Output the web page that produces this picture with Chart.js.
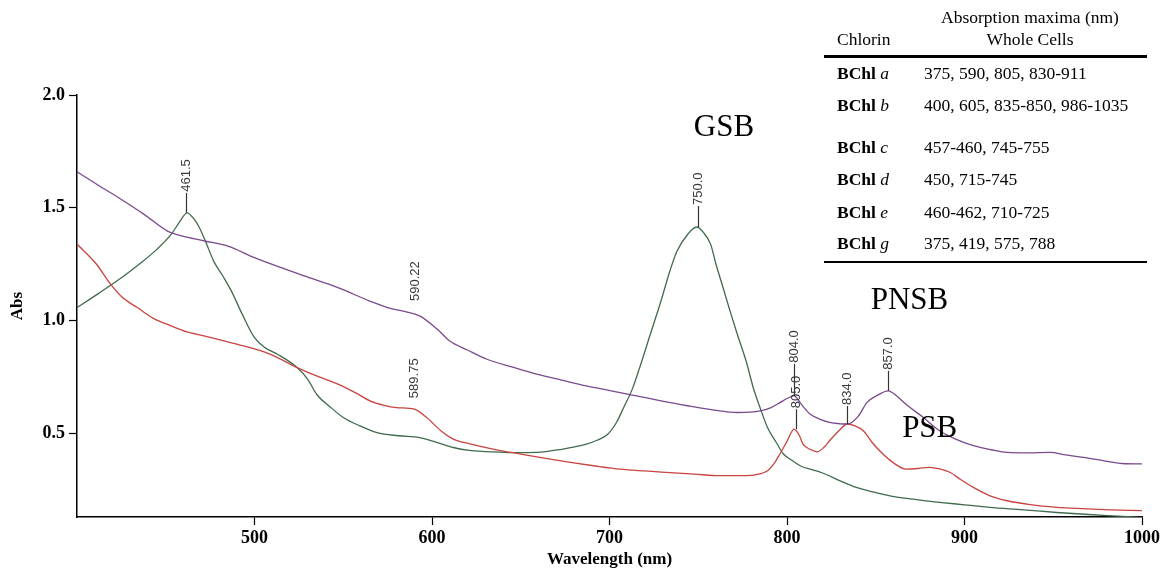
<!DOCTYPE html>
<html>
<head>
<meta charset="utf-8">
<script src="https://cdn.jsdelivr.net/npm/chart.js@4"></script>
<style>
  body { margin: 0; background: #fff; }
  canvas { display: block; }
</style>
</head>
<body>
<canvas id="spectra" width="1167" height="571"></canvas>
<script>
// wavelengths (nm) and absorbance for each group of bacteria
let pnsbNm = [400, 412, 425, 438, 451, 462, 472, 485, 500, 515, 528, 547, 565, 575, 586, 593, 603, 610, 620, 631,
    645, 659, 673, 687, 701, 715, 729, 744, 758, 772, 785, 791, 796, 800, 804, 808, 813, 818, 824, 830,
    834, 840, 845, 851, 857, 862, 867, 877, 886, 895, 905, 915, 924, 936, 948, 957, 967, 978, 989, 1000]
let pnsbAbs = [1.66, 1.60, 1.537, 1.47, 1.397, 1.37, 1.353, 1.33, 1.279, 1.235, 1.198, 1.146, 1.087, 1.058, 1.038, 1.021, 0.962, 0.91, 0.87, 0.829,
    0.795, 0.763, 0.737, 0.711, 0.689, 0.667, 0.645, 0.623, 0.605, 0.593, 0.600, 0.615, 0.637, 0.655, 0.667, 0.63, 0.586, 0.565, 0.549, 0.543,
    0.542, 0.575, 0.637, 0.67, 0.689, 0.665, 0.630, 0.57, 0.512, 0.475, 0.446, 0.428, 0.416, 0.414, 0.416, 0.405, 0.394, 0.38, 0.367, 0.365]

let psbNm = [400, 411, 419, 426, 434, 443, 453, 462, 472, 490, 509, 524, 535, 547, 557, 565, 573, 580, 590, 597,
    605, 612, 622, 635, 650, 664, 678, 692, 706, 720, 734, 748, 762, 777, 784, 789, 793, 796, 800, 804,
    807, 809, 813, 817, 821, 824, 829, 834, 838, 843, 848, 854, 860, 867, 874, 880, 886, 892, 898, 905,
    914, 924, 937, 952, 966, 982, 1000]
let psbAbs = [1.34, 1.25, 1.161, 1.10, 1.058, 1.01, 0.977, 0.95, 0.932, 0.896, 0.851, 0.792, 0.755, 0.719, 0.68, 0.645, 0.625, 0.615, 0.608, 0.571,
    0.512, 0.475, 0.453, 0.43, 0.409, 0.39, 0.372, 0.356, 0.342, 0.334, 0.327, 0.32, 0.313, 0.313, 0.32, 0.335, 0.37, 0.409, 0.465, 0.519,
    0.49, 0.453, 0.43, 0.419, 0.44, 0.468, 0.51, 0.542, 0.535, 0.512, 0.46, 0.409, 0.37, 0.342, 0.345, 0.35, 0.343, 0.327, 0.295, 0.261,
    0.225, 0.202, 0.185, 0.173, 0.167, 0.162, 0.158]

let gsbNm = [400, 412, 425, 435, 445, 453, 458, 462, 466, 469, 473, 477, 482, 487, 493, 500, 506, 513, 524, 530,
    535, 543, 550, 559, 569, 581, 593, 603, 612, 621, 631, 645, 659, 673, 687, 693, 699, 704, 708, 713,
    717, 723, 729, 734, 738, 744, 749, 753, 757, 760, 764, 768, 772, 777, 781, 785, 789, 794, 798, 803,
    808, 814, 820, 830, 839, 849, 858, 872, 886, 900, 914, 933, 952, 970, 989, 1000]
let gsbAbs = [1.058, 1.12, 1.19, 1.25, 1.316, 1.382, 1.44, 1.478, 1.45, 1.412, 1.34, 1.264, 1.20, 1.131, 1.03, 0.925, 0.88, 0.851, 0.792, 0.74,
    0.674, 0.615, 0.571, 0.535, 0.504, 0.49, 0.482, 0.46, 0.438, 0.425, 0.42, 0.415, 0.416, 0.43, 0.453, 0.47, 0.497, 0.55, 0.615, 0.70,
    0.792, 0.94, 1.087, 1.22, 1.308, 1.382, 1.415, 1.39, 1.338, 1.25, 1.146, 1.04, 0.94, 0.82, 0.703, 0.61, 0.527, 0.46, 0.409, 0.38,
    0.355, 0.34, 0.325, 0.29, 0.261, 0.24, 0.224, 0.208, 0.195, 0.184, 0.173, 0.162, 0.15, 0.141, 0.133, 0.128]

// peak markers
let peakNm = [461.5, 750.0, 590.22, 589.75, 804.0, 805.0, 834.0, 857.0]
let peakAbs = [1.478, 1.415, 1.021, 0.608, 0.667, 0.519, 0.542, 0.689]
let peakText = ['461.5', '750.0', '590.22', '589.75', '804.0', '805.0', '834.0', '857.0']
let peakStem = [20, 21, 0, 0, 32, 20, 18, 20]
let peakGap = [1, 1, 15, 11, 1, 1, 1, 1]

// group names written on the plot
let groupText = ['GSB', 'PNSB', 'PSB']
let groupNm = [764.5, 869, 880.4]
let groupAbs = [1.853, 1.087, 0.521]

// axis ticks
let xTicks = [500, 600, 700, 800, 900, 1000]
let yTicks = [0.5, 1.0, 1.5, 2.0]

// table of absorption maxima
let chlorinLetter = ['a', 'b', 'c', 'd', 'e', 'g']
let chlorinMaxima = ['375, 590, 805, 830-911', '400, 605, 835-850, 986-1035', '457-460, 745-755',
    '450, 715-745', '460-462, 710-725', '375, 419, 575, 788']

function toPoints(xs, ys){
    let pts = []
    for (let i = 0; i < xs.length; i++){
        pts.push({x: xs[i], y: ys[i]})
    }
    return pts
}

const serif = '"Liberation Serif", "Times New Roman", serif'
const sans = '"Liberation Sans", Arial, sans-serif'

let annotations = {
    id: 'annotations',
    afterDatasetsDraw(chart){
        let ctx = chart.ctx
        let xs = chart.scales.x
        let ys = chart.scales.y
        ctx.save()

        // peak stems and rotated labels
        ctx.strokeStyle = '#333'
        ctx.lineWidth = 1.2
        ctx.fillStyle = '#3a3a3a'
        ctx.font = '13px ' + sans
        for (let i = 0; i < peakNm.length; i++){
            let px = Math.round(xs.getPixelForValue(peakNm[i])) + 0.5
            let py = ys.getPixelForValue(peakAbs[i])
            if (peakStem[i] > 0){
                ctx.beginPath()
                ctx.moveTo(px, py)
                ctx.lineTo(px, py - peakStem[i])
                ctx.stroke()
            }
            ctx.save()
            ctx.translate(px, py - peakStem[i] - peakGap[i])
            ctx.rotate(-Math.PI / 2)
            ctx.textAlign = 'left'
            ctx.textBaseline = 'middle'
            ctx.fillText(peakText[i], 0, 0)
            ctx.restore()
        }

        // group names
        ctx.fillStyle = '#000'
        ctx.font = '31px ' + serif
        ctx.textAlign = 'center'
        ctx.textBaseline = 'middle'
        for (let i = 0; i < groupText.length; i++){
            ctx.fillText(groupText[i], xs.getPixelForValue(groupNm[i]), ys.getPixelForValue(groupAbs[i]))
        }
        ctx.restore()
    },
    afterDraw(chart){
        let ctx = chart.ctx
        ctx.save()
        ctx.fillStyle = '#000'
        ctx.textBaseline = 'alphabetic'

        ctx.font = '17.5px ' + serif
        ctx.textAlign = 'center'
        ctx.fillText('Absorption maxima (nm)', 1030, 23)
        ctx.fillText('Whole Cells', 1030, 45)
        ctx.textAlign = 'left'
        ctx.fillText('Chlorin', 837, 45)

        ctx.fillRect(824, 55, 323, 3)

        let baselines = [79, 111, 153, 185, 218, 249]
        for (let i = 0; i < chlorinLetter.length; i++){
            ctx.font = 'bold 17.5px ' + serif
            ctx.fillText('BChl ', 837, baselines[i])
            let w = ctx.measureText('BChl ').width
            ctx.font = 'italic 17.5px ' + serif
            ctx.fillText(chlorinLetter[i], 837 + w, baselines[i])
            ctx.font = '17.5px ' + serif
            ctx.fillText(chlorinMaxima[i], 924, baselines[i])
        }
        ctx.fillRect(824, 261, 323, 2)
        ctx.restore()
    }
}

let chart = new Chart(document.getElementById('spectra'), {
    type: 'line',
    data: {
        datasets: [
            { label: 'PNSB', data: toPoints(pnsbNm, pnsbAbs), borderColor: '#7a4a8c' },
            { label: 'PSB', data: toPoints(psbNm, psbAbs), borderColor: '#c9433f' },
            { label: 'GSB', data: toPoints(gsbNm, gsbAbs), borderColor: '#3f6b4c' }
        ]
    },
    options: {
        responsive: false,
        animation: false,
        devicePixelRatio: 1,
        datasets: {
            line: { borderWidth: 1.3, pointRadius: 0, fill: false, cubicInterpolationMode: 'monotone' }
        },
        layout: { padding: { top: 95, right: 25, left: 0, bottom: 0 } },
        plugins: { legend: { display: false }, tooltip: { enabled: false } },
        scales: {
            x: {
                type: 'linear',
                min: 400,
                max: 1000,
                afterBuildTicks(scale){
                    scale.ticks = xTicks.map(v => ({ value: v }))
                },
                afterFit(scale){
                    scale.height = 54
                },
                ticks: {
                    color: '#000',
                    padding: 3,
                    maxRotation: 0,
                    callback: v => String(v),
                    font: { family: serif, size: 18, weight: 'bold' }
                },
                grid: { drawOnChartArea: false, drawTicks: true, tickLength: 8, color: '#000', tickWidth: 1.2 },
                border: { display: true, color: '#000', width: 1.5 },
                title: {
                    display: true,
                    text: 'Wavelength (nm)',
                    color: '#000',
                    padding: 1,
                    font: { family: serif, size: 17, weight: 'bold' }
                }
            },
            y: {
                type: 'linear',
                min: 0.13,
                max: 2.0,
                afterBuildTicks(scale){
                    scale.ticks = yTicks.map(v => ({ value: v }))
                },
                afterFit(scale){
                    scale.width = 77
                },
                ticks: {
                    color: '#000',
                    padding: 4,
                    callback: v => v.toFixed(1),
                    font: { family: serif, size: 18, weight: 'bold' }
                },
                grid: { drawOnChartArea: false, drawTicks: true, tickLength: 8, color: '#000', tickWidth: 1.2 },
                border: { display: true, color: '#000', width: 1.5 },
                title: {
                    display: true,
                    text: 'Abs',
                    color: '#000',
                    padding: 7,
                    font: { family: serif, size: 17, weight: 'bold' }
                }
            }
        }
    },
    plugins: [annotations]
})
</script>
</body>
</html>
